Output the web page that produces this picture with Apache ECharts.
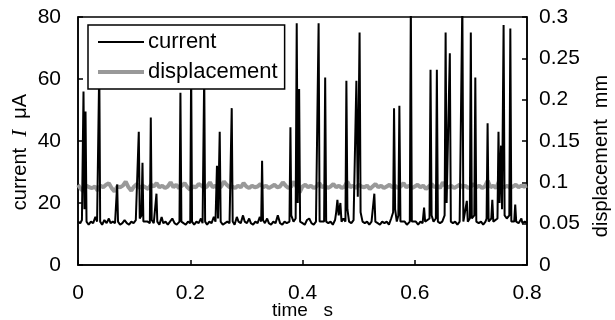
<!DOCTYPE html>
<html>
<head>
<meta charset="utf-8">
<script src="https://cdn.jsdelivr.net/npm/echarts@6/dist/echarts.min.js"></script>
<style>
  html, body { margin: 0; padding: 0; background: #fff; }
  #chart { width: 615px; height: 320px; }
</style>
</head>
<body>
<div id="chart"></div>
<script>
// Electrode current I (µA) sampled as [time s, current µA]
const current = [
  [0.000,14],[0.004,13.5],[0.007,14.5],[0.0098,56],[0.0115,18],[0.0134,49.5],[0.0152,14],[0.019,13],[0.023,14],[0.027,13.5],
  [0.031,15.5],[0.034,14],[0.0365,13.5],[0.0379,64],[0.0395,14],[0.043,13],[0.047,14.5],[0.051,13.5],[0.055,15],[0.058,13.5],
  [0.062,14],[0.066,13.5],[0.0683,14],[0.0698,26],[0.0713,14],[0.075,13],[0.079,13.5],[0.083,14.5],[0.087,13.5],[0.091,13],
  [0.095,14],[0.099,13.5],[0.103,14.5],[0.1065,14],[0.1083,43],[0.110,15],[0.113,16],[0.1149,33],[0.1165,14],[0.12,13.5],
  [0.124,14],[0.128,13.5],[0.1297,47.6],[0.1313,14.5],[0.135,13.5],[0.1383,14],[0.1398,23],[0.1413,14],[0.145,13],[0.149,15.5],
  [0.152,13.5],[0.156,14],[0.16,13],[0.164,14],[0.168,15],[0.172,13.5],[0.176,13],[0.1808,14],[0.1825,55.6],[0.1842,14],
  [0.188,13.5],[0.192,13],[0.196,14],[0.2,13.5],[0.2016,64],[0.2032,14],[0.207,13],[0.211,14],[0.215,13.5],[0.219,15],
  [0.222,13.5],[0.2233,14],[0.2249,62],[0.2265,14],[0.23,13],[0.234,14],[0.238,13.5],[0.242,15.5],[0.245,14],[0.2476,32],
  [0.2495,15],[0.2525,43],[0.2542,14],[0.258,13],[0.262,13.5],[0.266,14],[0.27,13.5],[0.2722,14],[0.2739,50.6],[0.2756,14],
  [0.279,13],[0.283,15.5],[0.286,14],[0.29,13.5],[0.294,16],[0.297,14],[0.301,13.5],[0.305,15],[0.308,13.5],[0.312,13],
  [0.316,14],[0.32,13.5],[0.324,15.5],[0.3264,14],[0.328,33.6],[0.3296,14.5],[0.333,13.5],[0.337,15],[0.34,13.5],[0.344,13],
  [0.348,14],[0.352,13.5],[0.356,16],[0.36,13.5],[0.364,13],[0.368,14],[0.372,13.5],[0.3768,14],[0.3785,44.4],[0.380,16],
  [0.384,14],[0.3878,15],[0.3897,78],[0.3915,20],[0.394,56.8],[0.3957,14],[0.4,13.5],[0.404,13],[0.408,14.5],[0.412,15],
  [0.416,13.5],[0.42,13],[0.424,14],[0.427,13.5],[0.4287,78],[0.4305,14],[0.434,13.5],[0.4385,14],[0.4404,60.5],[0.4422,14],
  [0.446,13.5],[0.45,14],[0.454,13],[0.458,14.5],[0.46,17],[0.4622,21],[0.4645,16],[0.4675,20],[0.4695,14],[0.473,15],
  [0.4765,14],[0.4782,59.4],[0.48,18],[0.483,14],[0.487,13.5],[0.491,14.5],[0.4943,14],[0.496,59.4],[0.4985,22],[0.5017,75],
  [0.5035,17],[0.507,14],[0.511,13.5],[0.515,14],[0.519,13],[0.523,14],[0.5262,14],[0.528,23],[0.5298,14],[0.534,13.5],
  [0.538,13],[0.542,14],[0.546,13.5],[0.55,14],[0.554,13],[0.558,15],[0.5615,17],[0.5631,50.6],[0.565,18],[0.568,14],
  [0.5708,16],[0.5726,51.4],[0.5745,14],[0.578,13.5],[0.582,14],[0.586,13],[0.5912,14],[0.593,85],[0.5948,14],[0.598,13.5],
  [0.602,14],[0.606,13],[0.61,14],[0.614,13.5],[0.6166,18.5],[0.6185,14],[0.622,13.5],[0.6263,15],[0.6281,63],[0.63,16],
  [0.6335,14],[0.6376,15],[0.6394,63],[0.6412,14],[0.645,13.5],[0.649,14],[0.6532,16],[0.655,75],[0.6568,20],[0.6625,68.3],
  [0.6643,14],[0.668,13.5],[0.672,14],[0.676,13],[0.68,14],[0.683,14],[0.6848,85],[0.6866,14],[0.6928,20.7],[0.6945,14],
  [0.6981,15],[0.6999,75],[0.7017,15],[0.7061,16],[0.7079,60.5],[0.7097,14],[0.714,13.5],[0.718,14],[0.722,13],[0.726,14],
  [0.728,15],[0.7298,45.7],[0.7316,14],[0.7364,15],[0.7382,21],[0.74,14],[0.7474,15],[0.7492,43],[0.751,20],[0.7537,38.5],
  [0.7555,18],[0.7583,77.4],[0.7601,16],[0.764,15],[0.7685,16],[0.7703,76.3],[0.7721,14],[0.7772,14],[0.779,19.5],[0.7808,14],
  [0.785,13.5],[0.7882,14],[0.79,15],[0.7918,13.5],[0.796,14],[0.8,13.5]
];

// Displacement (mm), one sample every dispStep seconds starting at t = 0
const dispStep = 0.005;
const displacement = [
  0.097,0.092,0.089,0.096,0.094,0.093,0.095,0.090,0.096,0.094,0.097,0.099,0.093,0.089,0.095,0.094,
  0.096,0.101,0.094,0.090,0.095,0.098,0.093,0.096,0.094,0.092,0.097,0.095,0.099,0.094,0.096,0.093,
  0.095,0.100,0.094,0.097,0.093,0.096,0.099,0.094,0.091,0.095,0.094,0.098,0.096,0.093,0.095,0.100,
  0.094,0.096,0.092,0.095,0.101,0.097,0.094,0.095,0.093,0.096,0.094,0.099,0.095,0.093,0.096,0.094,
  0.095,0.098,0.094,0.096,0.093,0.095,0.097,0.094,0.095,0.100,0.096,0.093,0.095,0.101,0.094,0.088,
  0.095,0.097,0.094,0.096,0.093,0.095,0.099,0.094,0.096,0.093,0.095,0.098,0.094,0.096,0.093,0.095,
  0.101,0.094,0.096,0.093,0.097,0.095,0.094,0.096,0.092,0.095,0.098,0.094,0.096,0.093,0.095,0.097,
  0.094,0.096,0.093,0.095,0.099,0.094,0.096,0.093,0.095,0.097,0.094,0.096,0.092,0.095,0.098,0.094,
  0.096,0.093,0.100,0.095,0.094,0.096,0.093,0.095,0.097,0.094,0.096,0.093,0.095,0.098,0.094,0.096,
  0.093,0.095,0.102,0.094,0.096,0.093,0.101,0.095,0.094,0.096,0.093,0.095,0.097,0.094,0.096,0.095,
  0.096
];

const timeTicks = [0, 0.2, 0.4, 0.6, 0.8];
const currentTicks = [0, 20, 40, 60, 80];
const dispTicks = [0, 0.05, 0.1, 0.15, 0.2, 0.25, 0.3];

const displacementSeries = displacement.map((v, i) => [+(i * dispStep).toFixed(3), v]);

const FONT = 'Liberation Sans, Arial, sans-serif';
const CURRENT_LINE = { color: '#000', width: 2 };
const DISP_LINE = { color: '#999', width: 4 };

const chart = echarts.init(document.getElementById('chart'), null, { renderer: 'canvas' });

chart.setOption({
  animation: false,
  backgroundColor: '#fff',
  textStyle: { fontFamily: FONT, color: '#000' },
  grid: {
    left: 78, right: 88, top: 17, bottom: 55,
    outerBoundsMode: 'none', containLabel: false,
    show: true, borderColor: '#000', borderWidth: 1.5, backgroundColor: 'transparent'
  },
  legend: {
    left: 88, top: 25,
    orient: 'vertical',
    backgroundColor: '#fff',
    borderColor: '#000', borderWidth: 1.5, borderRadius: 0,
    padding: [6, 7, 6, 8],
    itemWidth: 46, itemHeight: 14, itemGap: 8,
    itemStyle: { opacity: 0 },
    textStyle: { fontFamily: FONT, fontSize: 22, color: '#000', padding: [0, 0, 0, -1] },
    data: [
      { name: 'current', lineStyle: { width: 2, color: '#000' } },
      { name: 'displacement', lineStyle: { width: 4, color: '#999' } }
    ]
  },
  xAxis: {
    type: 'value', min: timeTicks[0], max: timeTicks[timeTicks.length - 1], interval: 0.2,
    name: 'time   s', nameLocation: 'middle', nameGap: 36, nameMoveOverlap: false,
    nameTextStyle: { fontFamily: FONT, fontSize: 19, color: '#000' },
    axisLine: { lineStyle: { color: '#000', width: 1.5 } },
    axisTick: { inside: true, length: 5, lineStyle: { color: '#000', width: 1.5 } },
    axisLabel: { fontFamily: FONT, fontSize: 21, color: '#000', margin: 18,
      formatter: v => String(+v.toFixed(1)) },
    splitLine: { show: false }
  },
  yAxis: [
    {
      type: 'value', min: currentTicks[0], max: currentTicks[currentTicks.length - 1], interval: 20,
      name: 'current  {i|I}  μA', nameLocation: 'middle', nameGap: 47, nameRotate: 90, nameMoveOverlap: false,
      nameTextStyle: { fontFamily: FONT, fontSize: 20, color: '#000', padding: [0, 22, 0, 0],
        rich: { i: { fontFamily: 'Liberation Serif, Times New Roman, serif', fontStyle: 'italic', fontSize: 21 } } },
      axisLine: { show: true, lineStyle: { color: '#000', width: 1.5 } },
      axisTick: { inside: true, length: 5, lineStyle: { color: '#000', width: 1.5 } },
      axisLabel: { fontFamily: FONT, fontSize: 21, color: '#000', margin: 17 },
      splitLine: { show: false }
    },
    {
      type: 'value', min: dispTicks[0], max: dispTicks[dispTicks.length - 1], interval: 0.05,
      position: 'right',
      name: 'displacement  mm', nameLocation: 'middle', nameGap: 64, nameRotate: 90, nameMoveOverlap: false,
      nameTextStyle: { fontFamily: FONT, fontSize: 20, color: '#000', padding: [0, 30, 0, 0] },
      axisLine: { show: true, lineStyle: { color: '#000', width: 1.5 } },
      axisTick: { inside: true, length: 5, lineStyle: { color: '#000', width: 1.5 } },
      axisLabel: { fontFamily: FONT, fontSize: 21, color: '#000', margin: 12,
        formatter: v => String(+v.toFixed(2)) },
      splitLine: { show: false }
    }
  ],
  series: [
    {
      name: 'current', type: 'line', yAxisIndex: 0, data: current,
      symbol: 'none', z: 3,
      lineStyle: CURRENT_LINE,
      itemStyle: { color: '#000' }
    },
    {
      name: 'displacement', type: 'line', yAxisIndex: 1, data: displacementSeries,
      symbol: 'none', z: 2,
      lineStyle: DISP_LINE,
      itemStyle: { color: '#999' }
    }
  ]
});
</script>
</body>
</html>
